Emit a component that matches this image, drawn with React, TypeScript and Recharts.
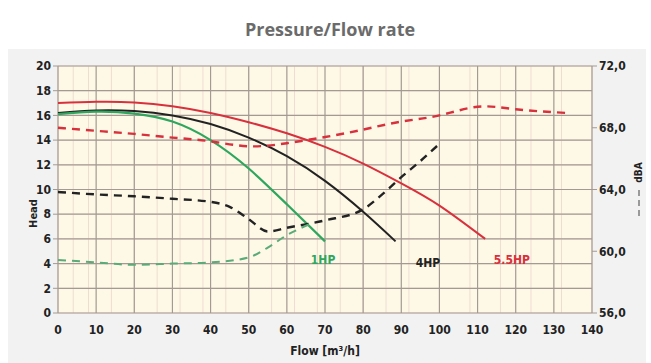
import {
  ComposedChart,
  Line,
  XAxis,
  YAxis,
  CartesianGrid,
  ReferenceDot,
} from 'recharts';

// Head curves [m] vs flow [m³/h]
const flow1HP = [0, 10, 20, 30, 40, 50, 60, 70];
const head1HP = [16.1, 16.3, 16.15, 15.5, 14.0, 11.7, 8.8, 5.8];

const flow4HP = [0, 10, 20, 30, 40, 50, 60, 70, 80, 88.5];
const head4HP = [16.2, 16.4, 16.35, 16.0, 15.3, 14.2, 12.7, 10.7, 8.2, 5.8];

const flow55HP = [0, 10, 20, 30, 40, 50, 60, 70, 80, 90, 100, 112];
const head55HP = [17.0, 17.1, 17.05, 16.75, 16.2, 15.45, 14.55, 13.45, 12.1, 10.5, 8.7, 6.0];

// Noise curves [dBA] vs flow
const flowDb1HP = [0, 10, 20, 30, 40, 50, 55, 60, 66];
const db1HP = [59.44, 59.28, 59.12, 59.2, 59.28, 59.6, 60.24, 61.04, 61.76];

const flowDb4HP = [0, 10, 20, 30, 40, 45, 50, 55, 60, 70, 80, 85, 90, 95, 100];
const db4HP = [63.84, 63.68, 63.56, 63.4, 63.2, 62.88, 62.08, 61.28, 61.52, 62.0, 62.72, 63.68, 64.8, 65.84, 66.96];

const flowDb55HP = [0, 10, 20, 30, 40, 50, 60, 70, 80, 90, 100, 110, 120, 133];
const db55HP = [68.0, 67.8, 67.6, 67.36, 67.12, 66.8, 67.0, 67.4, 67.88, 68.4, 68.8, 69.36, 69.2, 68.96];

const xTicks = [0, 10, 20, 30, 40, 50, 60, 70, 80, 90, 100, 110, 120, 130, 140];
const headTicks = [0, 2, 4, 6, 8, 10, 12, 14, 16, 18, 20];
const dbTicks = [56, 60, 64, 68, 72];

const curveLabels = ['1HP', '4HP', '5.5HP'];
const labelFlow = [69.5, 97, 119];
const labelHead = [4.3, 4.1, 4.3];

const toPoints = (xs: number[], ys: number[]) => xs.map((x, i) => ({ x, y: ys[i] }));

const minorH = Array.from({ length: 41 }, (_, i) => i * 0.5);
const minorV = Array.from({ length: 71 }, (_, i) => i * 2);

const FONT = '"Liberation Sans Narrow", "DejaVu Sans Condensed", "Roboto", sans-serif';
const RED = '#d8303c';
const BLACK = '#222222';
const GREEN = '#2fa65e';
const labelColors = [GREEN, BLACK, RED];

const tickStyle = { fill: '#222', fontSize: 12, fontWeight: 700, fontFamily: FONT };

export default function App() {
  return (
    <div style={{ position: 'relative', width: 651, height: 363, background: '#fff', fontFamily: FONT }}>
      <style>{'body{margin:0}'}</style>
      <div style={{ position: 'absolute', left: 8, top: 49, width: 638, height: 314, background: '#f2f2f2' }} />
      <div
        style={{
          position: 'absolute',
          top: 17,
          left: 0,
          width: 660,
          textAlign: 'center',
          fontSize: 18,
          fontWeight: 700,
          color: '#6b6b6b',
          fontFamily: '"Open Sans", sans-serif',
        }}
      >
        Pressure/Flow rate
      </div>
      <div style={{ position: 'absolute', left: 0, top: 0 }}>
        <ComposedChart width={651} height={363} margin={{ top: 66, right: 19, bottom: 25, left: 28 }}>
          <CartesianGrid
            yAxisId="left"
            horizontalValues={minorH}
            verticalValues={minorV}
            stroke="#f1dcd2"
            strokeWidth={1}
            fill="#fdf9e6"
          />
          <CartesianGrid
            yAxisId="left"
            horizontalValues={headTicks}
            verticalValues={xTicks}
            stroke="#a39a92"
            strokeWidth={1.2}
          />
          <XAxis
            type="number"
            dataKey="x"
            domain={[0, 140]}
            ticks={xTicks}
            tick={tickStyle}
            tickLine={false}
            axisLine={false}
            tickMargin={6}
            height={25}
            allowDuplicatedCategory={false}
          />
          <YAxis
            yAxisId="left"
            domain={[0, 20]}
            ticks={headTicks}
            tick={tickStyle}
            tickLine={{ stroke: '#a39a92' }}
            tickSize={5}
            axisLine={false}
            width={30}
          />
          <YAxis
            yAxisId="right"
            orientation="right"
            domain={[56, 72]}
            ticks={dbTicks}
            tick={tickStyle}
            tickFormatter={(v: number) => v.toFixed(1).replace('.', ',')}
            tickLine={{ stroke: '#a39a92' }}
            tickSize={5}
            axisLine={false}
            width={40}
          />
          <Line yAxisId="left" data={toPoints(flow55HP, head55HP)} dataKey="y" type="natural" stroke={RED} strokeWidth={2} dot={false} isAnimationActive={false} />
          <Line yAxisId="left" data={toPoints(flow4HP, head4HP)} dataKey="y" type="natural" stroke={BLACK} strokeWidth={2} dot={false} isAnimationActive={false} />
          <Line yAxisId="left" data={toPoints(flow1HP, head1HP)} dataKey="y" type="natural" stroke={GREEN} strokeWidth={2.2} dot={false} isAnimationActive={false} />
          <Line yAxisId="right" data={toPoints(flowDb55HP, db55HP)} dataKey="y" type="natural" stroke={RED} strokeWidth={2.4} strokeDasharray="8 6" dot={false} isAnimationActive={false} />
          <Line yAxisId="right" data={toPoints(flowDb4HP, db4HP)} dataKey="y" type="monotone" stroke={BLACK} strokeWidth={2.4} strokeDasharray="8 6" dot={false} isAnimationActive={false} />
          <Line yAxisId="right" data={toPoints(flowDb1HP, db1HP)} dataKey="y" type="monotone" stroke="#5aab78" strokeWidth={2} strokeDasharray="8 6" dot={false} isAnimationActive={false} />
          {curveLabels.map((t, i) => (
            <ReferenceDot
              key={t}
              yAxisId="left"
              x={labelFlow[i]}
              y={labelHead[i]}
              r={0}
              label={{ value: t, fill: labelColors[i], fontSize: 12, fontWeight: 700, fontFamily: FONT, position: 'center' }}
            />
          ))}
        </ComposedChart>
      </div>
      <div
        style={{
          position: 'absolute',
          left: 33 - 20,
          top: 215 - 8,
          width: 40,
          textAlign: 'center',
          fontSize: 11,
          fontWeight: 700,
          transform: 'rotate(-90deg)',
          color: '#222',
        }}
      >
        Head
      </div>
      <div
        style={{
          position: 'absolute',
          left: 265,
          top: 344,
          width: 120,
          textAlign: 'center',
          fontSize: 12,
          fontWeight: 700,
          color: '#222',
        }}
      >
        Flow [m³/h]
      </div>
      <div
        style={{
          position: 'absolute',
          left: 638 - 15,
          top: 175 - 8,
          width: 30,
          textAlign: 'center',
          fontSize: 10,
          fontWeight: 700,
          transform: 'rotate(-90deg)',
          color: '#222',
        }}
      >
        dBA
      </div>
      <div style={{ position: 'absolute', left: 638, top: 190, width: 0, height: 26, borderLeft: '2px dashed #999' }} />
    </div>
  );
}
